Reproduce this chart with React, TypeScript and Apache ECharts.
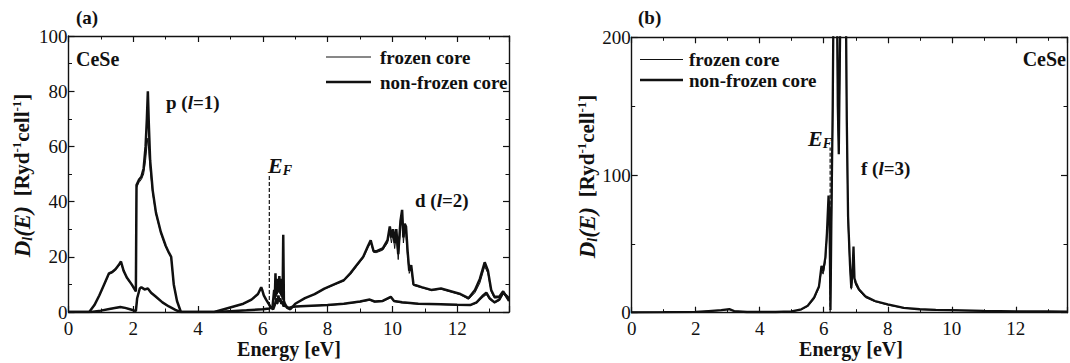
import React, { useEffect, useRef } from "react";
import * as echarts from "echarts";

// ---------- data (energy in eV, DOS in Ryd^-1 cell^-1) ----------
const pEnergy = [0, 0.64, 0.8, 0.95, 1.1, 1.25, 1.35, 1.45, 1.55, 1.62, 1.7, 1.8, 1.95, 2.08, 2.1, 2.18, 2.25, 2.32, 2.38, 2.42, 2.45, 2.48, 2.52, 2.6, 2.7, 2.85, 3.0, 3.1, 3.17, 3.25, 3.35, 3.47, 4.5, 4.8, 5.1, 5.4, 5.65, 5.85, 5.95, 5.98, 6.03, 6.1, 6.18, 6.25, 6.32, 6.38, 6.42, 6.45, 6.48, 6.51, 6.54, 6.57, 6.6, 6.62, 6.64, 6.67, 6.72, 6.8, 6.9, 7.0, 7.5, 8.0, 8.5, 9.0, 9.3, 9.45, 9.7, 9.95, 10.05, 10.3, 10.8, 11.5, 12.0, 12.4, 12.6, 12.8, 12.9, 13.0, 13.15, 13.3, 13.42, 13.6];
const pNonFrozen = [0, 0, 2.5, 6, 10, 14, 14.5, 15.5, 17, 18.3, 15, 12.5, 10, 7.5, 46, 48, 49, 52, 60, 70, 80, 68, 55, 44, 36, 29, 24, 21.5, 20, 10, 4, 0, 0, 1, 2, 3, 4.5, 6.5, 9, 8, 6, 4.5, 3, 1.5, 1, 3, 5, 3, 6, 4, 5, 3, 4, 3, 2, 2.5, 2, 1.5, 1.8, 2, 2.3, 2.5, 3, 3.8, 4.5, 3.8, 4, 5.5, 4, 3.5, 3, 2.8, 2.6, 2.5, 3.5, 6, 7, 5, 3.5, 4.5, 7, 5];
const pFrozen = [0, 0, 2.3, 5.8, 9.8, 13.6, 14.2, 15.2, 16.6, 17.8, 14.7, 12.2, 9.8, 7.4, 45, 47, 48, 50, 55, 60, 63, 58, 52, 43, 35.5, 28.6, 23.6, 21.2, 19.7, 9.8, 3.8, 0, 0, 0.9, 1.9, 2.9, 4.3, 6.3, 8.6, 7.8, 5.8, 4.4, 2.9, 1.4, 1, 2.6, 4.5, 2.8, 5.4, 3.6, 4.6, 2.8, 3.6, 2.8, 1.9, 2.3, 1.9, 1.4, 1.7, 1.9, 2.2, 2.4, 2.9, 3.6, 4.3, 3.6, 3.8, 5.2, 3.8, 3.3, 2.9, 2.7, 2.5, 2.4, 3.2, 5.4, 6.3, 4.6, 3.3, 4.2, 6.5, 4.8];

const dEnergy = [0, 0.7, 1.0, 1.3, 1.6, 1.75, 1.95, 2.08, 2.12, 2.2, 2.25, 2.35, 2.45, 2.55, 2.7, 2.9, 3.1, 3.3, 3.45, 4.5, 5.0, 5.5, 6.0, 6.2, 6.3, 6.35, 6.37, 6.39, 6.41, 6.43, 6.45, 6.47, 6.49, 6.51, 6.53, 6.55, 6.57, 6.59, 6.61, 6.63, 6.65, 6.68, 6.75, 6.85, 7.0, 7.3, 7.6, 7.9, 8.2, 8.5, 8.7, 8.9, 9.1, 9.25, 9.33, 9.42, 9.5, 9.7, 9.85, 9.92, 9.97, 10.02, 10.07, 10.12, 10.18, 10.25, 10.3, 10.34, 10.38, 10.42, 10.47, 10.52, 10.58, 10.65, 10.9, 11.2, 11.5, 11.8, 12.1, 12.35, 12.55, 12.7, 12.85, 12.95, 13.05, 13.15, 13.3, 13.42, 13.6];
const dNonFrozen = [0, 0, 0.5, 1.2, 1.8, 1.5, 0.8, 0.3, 5, 8.5, 9, 8.2, 8.5, 7, 5.5, 3.5, 2, 0.8, 0, 0, 0.3, 0.6, 1, 1.3, 2, 8, 5, 14, 6, 11, 7, 12, 8, 13, 7, 12, 6, 10, 5, 28, 4, 3, 1.5, 1, 3, 5, 6.5, 8.5, 10, 11.5, 14, 17, 20, 24, 26, 22, 22, 23, 26, 31, 27, 30, 25, 30, 21, 33, 37, 27, 32, 31, 22, 15, 17, 10, 9, 8, 8.5, 7.5, 6.5, 5, 8, 12, 18, 15, 8, 5.5, 5.5, 7.5, 4];
const dFrozen = [0, 0, 0.5, 1.1, 1.7, 1.4, 0.8, 0.3, 4.8, 8.2, 8.7, 8, 8.2, 6.8, 5.3, 3.4, 1.9, 0.8, 0, 0, 0.3, 0.6, 1, 1.2, 1.9, 7, 4.5, 12, 5.5, 10, 6.5, 11, 7.5, 12, 6.5, 11, 5.5, 9, 4.5, 25, 3.5, 2.8, 1.4, 1, 3, 5, 6.4, 8.3, 9.8, 11.3, 13.6, 16.6, 19.6, 23.4, 25, 21.6, 21.5, 22.4, 25, 29, 25, 28.5, 23, 28, 19, 31, 34, 25, 30, 28, 20, 14, 16, 9.6, 8.8, 7.8, 8.3, 7.3, 6.3, 4.6, 7, 10.5, 16.5, 14, 7.4, 5, 5.2, 7, 3.8];

const fEnergy = [0, 1, 2, 2.4, 2.8, 3.05, 3.2, 3.6, 4.5, 5.0, 5.3, 5.5, 5.7, 5.85, 5.93, 5.98, 6.05, 6.1, 6.15, 6.18, 6.21, 6.24, 6.28, 6.31, 6.36, 6.41, 6.44, 6.47, 6.5, 6.55, 6.62, 6.68, 6.72, 6.76, 6.82, 6.86, 6.9, 6.93, 6.96, 7.0, 7.1, 7.3, 7.6, 8.0, 8.5, 9.0, 9.5, 10, 11, 12, 13, 13.6];
const fNonFrozen = [0.3, 0.4, 0.6, 1.2, 1.8, 2.6, 1.2, 0.5, 0.5, 0.9, 2.5, 5, 11, 19, 34, 30, 40, 58, 85, 70, 2, 70, 150, 240, 300, 240, 150, 115, 180, 280, 320, 260, 140, 70, 35, 18, 30, 48, 25, 22, 17, 12, 8.5, 6, 3.5, 2.5, 2, 1.8, 1.3, 1.0, 0.9, 0.8];
const fFrozen = [0.3, 0.4, 0.6, 1.1, 1.7, 2.3, 1.1, 0.5, 0.5, 0.8, 2.3, 4.6, 10, 18, 31, 28, 37, 54, 80, 65, 3, 62, 135, 225, 290, 230, 140, 118, 170, 270, 310, 250, 130, 64, 32, 17, 27, 42, 23, 20, 16, 11, 8, 5.6, 3.3, 2.4, 1.9, 1.7, 1.2, 0.9, 0.8, 0.7];

const fermiEnergy = 6.2;
const fermiMarkLeft = 50;
const fermiMarkRight = 120;

const xTickValues = [0, 2, 4, 6, 8, 10, 12];
const leftYTicks = [0, 20, 40, 60, 80, 100];
const rightYTicks = [0, 100, 200];

// ---------- styles ----------
const SERIF = "Liberation Serif";
const INK = "#111";

const zip = (xs: number[], ys: number[]) => xs.map((x, i) => [x, ys[i]]);

function axisCommon(labels: boolean, fmtVals: number[], margin: number, lineHeight: number) {
  return {
    axisLine: { show: true, onZero: false, lineStyle: { color: INK, width: 1.4 } },
    axisTick: { show: true, inside: true, length: 6, lineStyle: { color: INK, width: 1.2 } },
    minorTick: { show: true, splitNumber: 2, length: 3.5, lineStyle: { color: INK, width: 1 } },
    splitLine: { show: false },
    axisLabel: {
      show: labels,
      color: INK,
      fontFamily: SERIF,
      fontSize: 19,
      lineHeight,
      margin,
      formatter: (v: number) => (fmtVals.indexOf(v) >= 0 ? String(v) : ""),
    },
  };
}

function xAxes(grid: number, max: number) {
  const base = { type: "value", gridIndex: grid, min: 0, max, interval: 2 };
  return [
    { ...base, position: "bottom", ...axisCommon(true, xTickValues, 7, 18) },
    { ...base, position: "top", ...axisCommon(false, xTickValues, 7, 18) },
  ];
}

function yAxes(grid: number, max: number, interval: number, ticks: number[]) {
  const base = { type: "value", gridIndex: grid, min: 0, max, interval };
  return [
    { ...base, position: "left", ...axisCommon(true, ticks, 1, 13) },
    { ...base, position: "right", ...axisCommon(false, ticks, 1, 13) },
  ];
}

function line(name: string, data: number[][], xi: number, yi: number, width: number, dashed = false) {
  return {
    name,
    type: "line",
    xAxisIndex: xi,
    yAxisIndex: yi,
    data,
    showSymbol: false,
    symbol: "none",
    clip: true,
    lineStyle: { color: INK, width, type: dashed ? [4, 2] : "solid" },
    z: dashed ? 1 : 2,
  };
}

function yTitle(x: number, y: number) {
  return {
    type: "text",
    x,
    y,
    rotation: Math.PI / 2,
    style: {
      text: "{d|D}{sub|l}{d|(E)}   {b|[Ryd}{sup|-1}{b|cell}{sup|-1}{b|]}",
      align: "center",
      verticalAlign: "middle",
      rich: {
        d: { fontFamily: SERIF, fontWeight: "bold", fontStyle: "italic", fontSize: 23, lineHeight: 24, fill: INK, verticalAlign: "middle" },
        sub: { fontFamily: SERIF, fontWeight: "bold", fontStyle: "italic", fontSize: 14, lineHeight: 13, fill: INK, verticalAlign: "bottom" },
        b: { fontFamily: SERIF, fontWeight: "bold", fontSize: 21, lineHeight: 24, fill: INK, verticalAlign: "middle" },
        sup: { fontFamily: SERIF, fontWeight: "bold", fontSize: 13, lineHeight: 13, fill: INK, verticalAlign: "top" },
      },
    },
  };
}

function efLabel(x: number, y: number) {
  return {
    type: "text",
    x,
    y,
    style: {
      text: "{e|E}{s|F}",
      align: "left",
      verticalAlign: "middle",
      rich: {
        e: { fontFamily: SERIF, fontWeight: "bold", fontStyle: "italic", fontSize: 22, lineHeight: 24, fill: INK, verticalAlign: "middle" },
        s: { fontFamily: SERIF, fontWeight: "bold", fontStyle: "italic", fontSize: 14, lineHeight: 12, fill: INK, verticalAlign: "bottom" },
      },
    },
  };
}

function orbitalLabel(x: number, y: number, pre: string, post: string) {
  return {
    type: "text",
    x,
    y,
    style: {
      text: `{b|${pre} (}{i|l}{b|${post})}`,
      align: "left",
      verticalAlign: "middle",
      rich: {
        b: { fontFamily: SERIF, fontWeight: "bold", fontSize: 19, fill: INK },
        i: { fontFamily: SERIF, fontWeight: "bold", fontStyle: "italic", fontSize: 19, fill: INK },
      },
    },
  };
}

function text(x: number, y: number, s: string, size: number, align = "left") {
  return {
    type: "text",
    x,
    y,
    style: { fontFamily: SERIF, fontWeight: "bold", fill: INK, text: s, fontSize: size, align, verticalAlign: "middle" },
  };
}

function legendLine(x1: number, x2: number, y: number, w: number) {
  return { type: "line", shape: { x1, y1: y, x2, y2: y }, style: { stroke: INK, lineWidth: w } };
}

export default function App() {
  const ref = useRef<HTMLDivElement>(null);
  useEffect(() => {
    if (!ref.current) return;
    const chart = echarts.init(ref.current, undefined, { renderer: "svg" });
    const option = {
      animation: false,
      backgroundColor: "#fff",
      textStyle: { fontFamily: SERIF },
      grid: [
        { left: 68.5, top: 36, width: 440.5, height: 276 },
        { left: 631.7, top: 37.3, width: 441, height: 275.4 },
      ],
      xAxis: [...xAxes(0, 13.6), ...xAxes(1, 13.6)],
      yAxis: [...yAxes(0, 100, 20, leftYTicks), ...yAxes(1, 200, 100, rightYTicks)],
      series: [
        line("p non-frozen core", zip(pEnergy, pNonFrozen), 0, 0, 2.5),
        line("p frozen core", zip(pEnergy, pFrozen), 0, 0, 1),
        line("d non-frozen core", zip(dEnergy, dNonFrozen), 0, 0, 2.5),
        line("d frozen core", zip(dEnergy, dFrozen), 0, 0, 1),
        line("EF a", [[fermiEnergy, 0], [fermiEnergy, fermiMarkLeft]], 0, 0, 1.2, true),
        line("f non-frozen core", zip(fEnergy, fNonFrozen), 2, 2, 2.3),
        line("f frozen core", zip(fEnergy, fFrozen), 2, 2, 1),
        line("EF b", [[fermiEnergy, 0], [fermiEnergy, fermiMarkRight]], 2, 2, 1.2, true),
      ],
      graphic: [
        text(76, 17, "(a)", 19),
        text(638, 17, "(b)", 19),
        text(76, 59, "CeSe", 20),
        text(1066, 58.5, "CeSe", 20, "right"),
        legendLine(326, 371, 57, 1),
        legendLine(326, 371, 82, 2.6),
        text(380, 57, "frozen core", 19),
        text(380, 82, "non-frozen core", 19),
        legendLine(640, 683, 59.5, 1),
        legendLine(640, 683, 80, 2.6),
        text(689, 59.5, "frozen core", 19),
        text(689, 80, "non-frozen core", 19),
        orbitalLabel(166, 102.5, "p", "=1"),
        orbitalLabel(415, 200, "d", "=2"),
        orbitalLabel(861, 168, "f", "=3"),
        efLabel(268, 165),
        efLabel(808, 138),
        text(289, 349, "Energy [eV]", 20, "center"),
        text(851, 349, "Energy [eV]", 20, "center"),
        yTitle(22, 175.5),
        yTitle(587, 176.5),
      ],
    };
    chart.setOption(option as any);
    return () => chart.dispose();
  }, []);
  return (
    <div
      ref={ref}
      style={{ position: "fixed", left: 0, top: 0, width: 1070, height: 363, background: "#fff" }}
    />
  );
}
